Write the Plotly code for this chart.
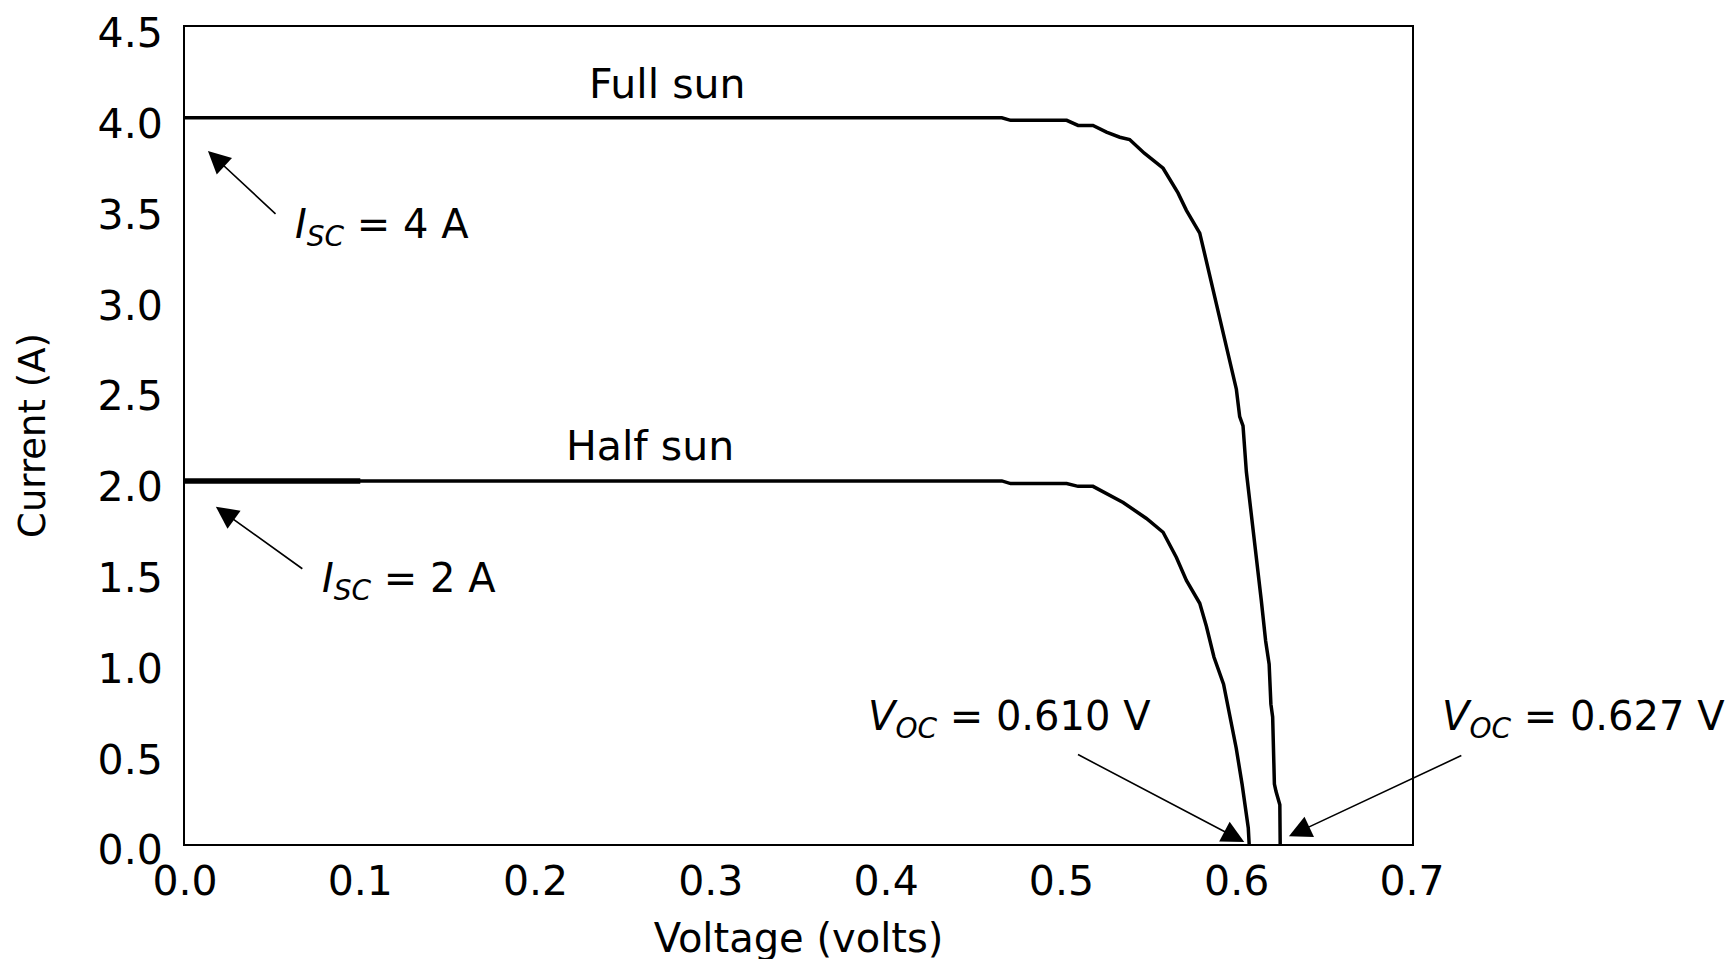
import plotly.graph_objects as go

# ---- data ----
full_v = [0.000, 0.466, 0.471, 0.503, 0.5095, 0.518, 0.5257, 0.5333, 0.5389, 0.5473,
          0.5580, 0.5665, 0.5713, 0.5789, 0.5808, 0.5845, 0.5902, 0.5950, 0.5998,
          0.6017, 0.6036, 0.6055, 0.6083, 0.6112, 0.6140, 0.6165, 0.6185, 0.6195,
          0.6205, 0.6215, 0.6224, 0.6246, 0.6248]
full_i = [4.000, 4.000, 3.986, 3.986, 3.958, 3.958, 3.921, 3.893, 3.880, 3.805,
          3.722, 3.586, 3.490, 3.365, 3.288, 3.137, 2.910, 2.694, 2.505,
          2.354, 2.303, 2.050, 1.820, 1.597, 1.344, 1.118, 0.990, 0.770,
          0.700, 0.330, 0.290, 0.216, 0.000]

half_v = [0.000, 0.466, 0.471, 0.503, 0.5095, 0.518, 0.5352, 0.5485, 0.5580, 0.5656,
          0.5713, 0.5789, 0.5827, 0.5870, 0.5925, 0.5962, 0.5997, 0.6031, 0.6055,
          0.6066, 0.6071]
half_i = [2.000, 2.000, 1.985, 1.985, 1.970, 1.970, 1.881, 1.793, 1.717, 1.578,
          1.452, 1.326, 1.199, 1.030, 0.880, 0.694, 0.529, 0.327, 0.161,
          0.088, 0.000]

# thicker start segment of the half-sun line
half_thick_v = [0.0, 0.1]
half_thick_i = [2.0, 2.0]

x_ticks = [0.0, 0.1, 0.2, 0.3, 0.4, 0.5, 0.6, 0.7]
x_tick_labels = ["0.0", "0.1", "0.2", "0.3", "0.4", "0.5", "0.6", "0.7"]
y_ticks = [0.0, 0.5, 1.0, 1.5, 2.0, 2.5, 3.0, 3.5, 4.0, 4.5]
y_tick_labels = ["0.0", "0.5", "1.0", "1.5", "2.0", "2.5", "3.0", "3.5", "4.0", "4.5"]

x_title = "Voltage (volts)"
y_title = "Current (A)"

# text labels inside the axes: text, x (volts), y (amps), size
label_texts = ["Full sun", "Half sun",
               "<i>I</i><sub><i>SC</i></sub> = 4 A",
               "<i>I</i><sub><i>SC</i></sub> = 2 A",
               "<i>V</i><sub><i>OC</i></sub> = 0.610 V"]
label_x = [0.2748, 0.2654, 0.1123, 0.1277, 0.4705]
label_y = [4.185, 2.19, 3.40, 1.448, 0.688]
label_size = [41, 41, 40, 40, 40]

# label placed right of the axes (x as fraction of plot width)
side_text = "<i>V</i><sub><i>OC</i></sub> = 0.627 V"
side_x = 1.140
side_y = 0.690

# arrows: head (x, y), tail (ax, ay)
arrow_x = [0.0131, 0.0176, 0.6043, 0.6298]
arrow_y = [3.817, 1.858, 0.011, 0.042]
arrow_ax = [0.0525, 0.0678, 0.5086, 0.7290]
arrow_ay = [3.463, 1.510, 0.497, 0.491]

FONT = "DejaVu Sans"

fig = go.Figure()
fig.add_trace(go.Scatter(x=full_v, y=full_i, mode="lines",
                         line=dict(color="black", width=3.5), cliponaxis=False,
                         showlegend=False, hoverinfo="skip"))
fig.add_trace(go.Scatter(x=half_v, y=half_i, mode="lines",
                         line=dict(color="black", width=3.5), cliponaxis=False,
                         showlegend=False, hoverinfo="skip"))
fig.add_trace(go.Scatter(x=half_thick_v, y=half_thick_i, mode="lines",
                         line=dict(color="black", width=5.5), cliponaxis=False,
                         showlegend=False, hoverinfo="skip"))

annotations = []
for t, x, y, s in zip(label_texts, label_x, label_y, label_size):
    annotations.append(dict(text=t, x=x, y=y, xref="x", yref="y", showarrow=False,
                            xanchor="center", yanchor="middle",
                            font=dict(family=FONT, size=s, color="black")))
annotations.append(dict(text=side_text, x=side_x, y=side_y, xref="paper", yref="y",
                        showarrow=False, xanchor="center", yanchor="middle",
                        font=dict(family=FONT, size=40, color="black")))
for x, y, ax, ay in zip(arrow_x, arrow_y, arrow_ax, arrow_ay):
    annotations.append(dict(text="", x=x, y=y, ax=ax, ay=ay, xref="x", yref="y",
                            axref="x", ayref="y", showarrow=True, arrowhead=2,
                            arrowsize=2.8, arrowwidth=1.6, arrowcolor="black",
                            standoff=0, startstandoff=0))

fig.update_layout(
    width=1736, height=959,
    margin=dict(l=177, r=332, t=19, b=123),
    paper_bgcolor="white", plot_bgcolor="white",
    font=dict(family=FONT, color="black"),
    annotations=annotations,
)
fig.update_xaxes(range=[0, 0.7], tickmode="array", tickvals=x_ticks, ticktext=x_tick_labels,
                 showgrid=False, zeroline=False, showline=True, linecolor="black",
                 linewidth=2, mirror=True, ticks="", ticklabeloverflow="allow",
                 automargin=False,
                 tickfont=dict(family=FONT, size=41, color="black"),
                 title=dict(text=x_title, font=dict(family=FONT, size=40, color="black"),
                            standoff=20))
fig.update_yaxes(range=[0, 4.5], tickmode="array", tickvals=y_ticks, ticktext=y_tick_labels,
                 showgrid=False, zeroline=False, showline=True, linecolor="black",
                 linewidth=2, mirror=True, ticks="", ticklabeloverflow="allow",
                 ticklabelstandoff=12, ticklabelshift=6, automargin=False,
                 tickfont=dict(family=FONT, size=41, color="black"),
                 title=dict(text=y_title, font=dict(family=FONT, size=37, color="black"),
                            standoff=41))

fig.write_html("out.html")
